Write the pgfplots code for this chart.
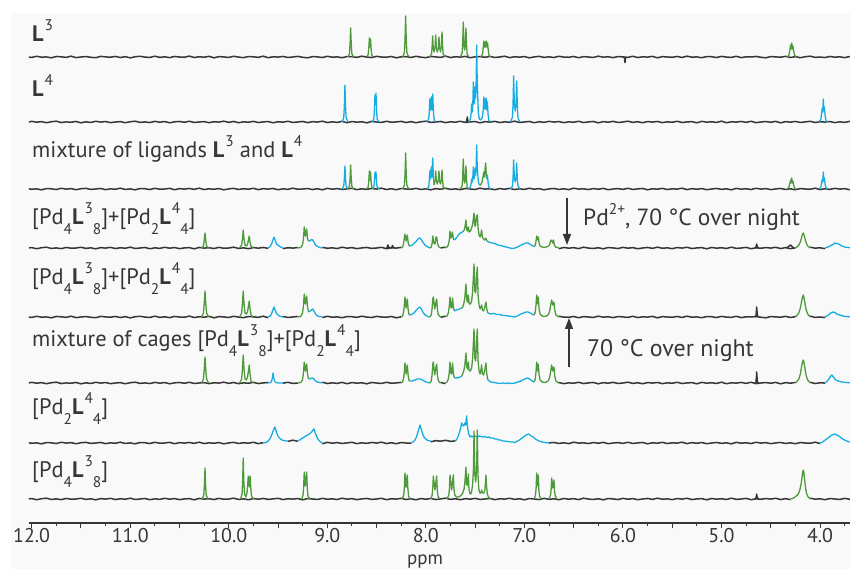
\documentclass[border=0pt]{standalone}
\usepackage{pgfplots}
\pgfplotsset{compat=1.18}
\usepackage{pgfplotstable}
\usepackage{fontspec}
\setmainfont{PT Sans}
\usetikzlibrary{arrows.meta}

\definecolor{gr}{HTML}{4F9A3C}
\definecolor{bl}{HTML}{16ADE3}
\definecolor{dk}{HTML}{363636}
\definecolor{panel}{HTML}{F9F9F9}

\newcommand\fs{\fontsize{22.5}{26}\selectfont}
\newcommand\sups[1]{\raisebox{0.5em}{\fontsize{15.5}{15.5}\selectfont #1}}
\newcommand\subs[1]{\raisebox{-0.42em}{\fontsize{15.5}{15.5}\selectfont #1}}
\newcommand\Lb{\textbf{L}\hspace{1bp}}

% baseline noise of the spectra (ppm, four noise traces in px)
\pgfplotstableread[row sep=\\]{
x a b c d\\
12.05 0.3 -0.4 0.6 -0.2\\
12.00 -0.5 0.7 -0.3 0.5\\
11.95 0.8 -0.2 0.1 -0.8\\
11.90 -0.2 0.4 -0.9 0.3\\
11.85 0.1 -0.8 0.5 0.9\\
11.80 -0.9 0.3 0.2 -0.5\\
11.75 0.6 0.9 -0.6 0.1\\
11.70 0.2 -0.6 0.8 -0.7\\
11.65 -0.4 0.1 -0.1 0.6\\
11.60 0.9 -0.3 0.4 -0.2\\
11.55 -0.7 0.6 -0.8 0.0\\
11.50 0.0 -0.9 0.3 0.8\\
11.45 0.5 0.2 0.7 -0.4\\
11.40 -0.3 -0.5 -0.4 0.2\\
11.35 -0.8 0.8 0.0 -0.9\\
11.30 0.7 -0.1 0.6 0.4\\
11.25 0.1 0.5 -0.7 -0.1\\
11.20 -0.2 -0.7 0.2 0.7\\
11.15 0.6 0.0 -0.3 -0.6\\
11.10 -0.6 0.4 0.9 0.3\\
11.05 0.4 -0.8 -0.5 -0.3\\
11.00 -1.0 0.3 0.1 0.9\\
10.95 0.3 0.9 -0.9 -0.5\\
10.90 0.8 -0.4 0.5 0.0\\
10.85 -0.1 0.1 0.3 0.6\\
10.80 -0.5 -0.6 -0.6 -0.8\\
10.75 0.9 0.7 0.8 0.2\\
10.70 -0.4 -0.2 -0.2 -0.4\\
10.65 0.2 0.5 0.0 0.8\\
10.60 -0.7 -0.9 0.7 -0.2\\
10.55 0.6 0.2 -0.8 0.5\\
10.50 0.0 0.6 0.4 -0.7\\
10.45 -0.3 -0.3 -0.1 0.1\\
10.40 1.0 0.8 0.6 0.4\\
10.35 -0.6 -0.5 -0.4 -0.9\\
10.30 0.3 0.0 0.9 0.6\\
10.25 -0.2 0.4 -0.6 -0.1\\
10.20 0.7 -0.7 0.2 0.3\\
10.15 -0.9 0.3 -0.3 -0.6\\
10.10 0.4 -0.1 0.5 0.7\\
10.05 0.1 0.9 -0.9 -0.3\\
10.00 -0.5 -0.4 0.1 0.0\\
9.95 0.8 0.6 0.7 0.9\\
9.90 -0.1 -0.8 -0.5 -0.5\\
9.85 -0.7 0.2 0.3 0.2\\
9.80 0.5 -0.3 -0.2 -0.8\\
9.75 0.2 0.7 0.8 0.5\\
9.70 -0.4 -0.6 -0.7 -0.2\\
9.65 0.9 0.1 0.4 0.6\\
9.60 -0.8 0.5 -0.1 -0.4\\
9.55 0.3 -0.9 0.6 0.1\\
9.50 -0.1 0.3 -0.8 0.8\\
9.45 0.6 -0.2 0.2 -0.7\\
9.40 -0.5 0.8 -0.4 0.3\\
9.35 0.0 -0.5 0.9 -0.1\\
9.30 0.7 0.0 -0.3 0.5\\
9.25 -0.3 0.6 0.0 -0.9\\
9.20 -0.9 -0.7 0.5 0.4\\
9.15 0.4 0.4 -0.6 0.0\\
9.10 0.2 -0.1 0.3 -0.5\\
9.05 -0.6 0.9 -0.9 0.7\\
9.00 0.8 -0.6 0.7 -0.3\\
8.95 -0.2 0.2 -0.2 0.2\\
8.90 0.1 -0.4 0.4 -0.6\\
8.85 -0.8 0.7 -0.5 0.9\\
8.80 0.5 -0.8 0.1 -0.2\\
8.75 0.3 0.5 0.8 0.4\\
8.70 -0.4 -0.2 -0.7 -0.7\\
8.65 0.9 0.3 0.2 0.1\\
8.60 -0.1 -0.9 -0.4 0.6\\
8.55 -0.6 0.6 0.6 -0.4\\
8.50 0.7 0.0 -0.1 0.0\\
8.45 0.0 -0.5 0.9 0.8\\
8.40 -0.3 0.8 -0.6 -0.8\\
8.35 0.6 -0.3 0.3 0.3\\
8.30 -0.9 0.1 -0.8 -0.1\\
8.25 0.2 0.7 0.5 0.7\\
8.20 0.4 -0.6 0.0 -0.5\\
8.15 -0.5 0.4 -0.3 0.2\\
8.10 0.8 -0.8 0.7 -0.9\\
8.05 -0.2 0.2 -0.5 0.5\\
8.00 -0.7 0.9 0.2 -0.3\\
7.95 0.5 -0.4 -0.9 0.6\\
7.90 0.1 0.0 0.4 -0.6\\
7.85 -0.4 0.6 -0.2 0.1\\
7.80 1.0 -0.7 0.8 0.9\\
7.75 -0.6 0.3 -0.4 -0.4\\
7.70 0.3 -0.2 0.1 0.3\\
7.65 -0.1 0.8 -0.7 -0.8\\
7.60 0.7 -0.5 0.6 0.4\\
7.55 -0.8 0.1 0.0 -0.2\\
7.50 0.2 0.5 -0.5 0.7\\
7.45 0.4 -0.9 0.9 -0.5\\
7.40 -0.3 0.4 -0.1 0.0\\
7.35 0.6 -0.1 0.3 0.6\\
7.30 -0.5 0.7 -0.8 -0.7\\
7.25 0.0 -0.6 0.5 0.2\\
7.20 0.9 0.2 -0.3 -0.1\\
7.15 -0.7 -0.3 0.7 0.8\\
7.10 0.3 0.9 -0.6 -0.4\\
7.05 -0.2 -0.5 0.2 0.3\\
7.00 0.5 0.0 -0.4 -0.9\\
6.95 -0.9 0.6 0.8 0.5\\
6.90 0.1 -0.8 -0.2 0.0\\
6.85 0.7 0.3 0.4 -0.6\\
6.80 -0.4 -0.4 -0.9 0.7\\
6.75 0.2 0.7 0.1 -0.3\\
6.70 -0.6 -0.1 0.6 0.2\\
6.65 0.8 0.5 -0.5 -0.8\\
6.60 -0.1 -0.7 0.3 0.6\\
6.55 -0.3 0.2 -0.7 -0.2\\
6.50 0.6 -0.3 0.9 0.4\\
6.45 -0.8 0.8 -0.1 -0.7\\
6.40 0.4 -0.6 0.2 0.9\\
6.35 0.0 0.1 -0.6 -0.1\\
6.30 -0.5 0.6 0.5 -0.5\\
6.25 0.9 -0.9 -0.3 0.3\\
6.20 -0.2 0.4 0.7 -0.9\\
6.15 0.3 -0.2 -0.8 0.5\\
6.10 -0.7 0.7 0.0 0.1\\
6.05 0.5 -0.5 0.4 -0.6\\
6.00 0.1 0.0 -0.4 0.7\\
5.95 -0.4 0.9 0.8 -0.2\\
5.90 0.8 -0.4 -0.5 0.4\\
5.85 -0.6 0.3 0.1 -0.8\\
5.80 0.2 -0.8 0.6 0.0\\
5.75 -0.1 0.5 -0.9 0.6\\
5.70 0.7 -0.1 0.3 -0.4\\
5.65 -0.9 0.6 -0.2 0.9\\
5.60 0.4 -0.7 0.7 -0.3\\
5.55 0.0 0.2 -0.6 0.2\\
5.50 -0.3 -0.3 0.2 -0.7\\
5.45 0.6 0.8 -0.1 0.5\\
5.40 -0.5 -0.6 0.9 -0.1\\
5.35 0.9 0.1 -0.7 0.8\\
5.30 -0.2 0.4 0.4 -0.6\\
5.25 0.1 -0.9 -0.3 0.1\\
5.20 -0.8 0.7 0.5 0.4\\
5.15 0.5 -0.2 -0.8 -0.9\\
5.10 0.3 0.3 0.0 0.6\\
5.05 -0.6 -0.5 0.6 -0.2\\
5.00 0.7 0.9 -0.4 0.3\\
4.95 -0.1 -0.8 0.2 -0.5\\
4.90 -0.4 0.2 -0.9 0.9\\
4.85 0.8 -0.1 0.7 -0.4\\
4.80 -0.7 0.6 -0.2 0.0\\
4.75 0.2 -0.4 0.3 0.7\\
4.70 0.0 0.8 -0.6 -0.8\\
4.65 0.6 -0.7 0.8 0.2\\
4.60 -0.3 0.0 -0.1 -0.3\\
4.55 -0.9 0.5 0.4 0.5\\
4.50 0.5 -0.3 -0.7 -0.1\\
4.45 0.1 0.7 0.1 0.8\\
4.40 -0.2 -0.9 0.6 -0.6\\
4.35 0.7 0.4 -0.5 0.4\\
4.30 -0.5 -0.2 0.2 -0.7\\
4.25 0.4 0.6 -0.8 0.1\\
4.20 -0.8 -0.5 0.5 0.6\\
4.15 0.3 0.1 0.0 -0.4\\
4.10 0.9 0.8 -0.3 0.9\\
4.05 -0.4 -0.6 0.9 -0.2\\
4.00 0.0 0.3 -0.6 0.3\\
3.95 -0.6 -0.1 0.3 -0.8\\
3.90 0.6 0.5 -0.4 0.5\\
3.85 -0.2 -0.7 0.7 0.0\\
3.80 0.2 0.2 -0.1 -0.5\\
3.75 -0.7 -0.4 0.4 0.7\\
3.70 0.5 0.7 -0.8 -0.3\\
3.65 -0.1 -0.2 0.1 0.4\\
}\noise

\pgfplotsset{
  basey/.style={y filter/.expression={y+#1}},
  basen/.style={y filter/.expression={0.9*y+#1}},
  gl/.style={dk, line width=1.5bp, line join=round, no marks},
  gg/.style={gr, line width=1.3bp, line join=round, no marks},
  bb/.style={bl, line width=1.3bp, line join=round, no marks},
}

\begin{document}
\begin{tikzpicture}
\useasboundingbox (0,0) rectangle (850bp,569bp);
\fill[panel] (11bp,0) rectangle (850bp,556bp);
\begin{axis}[
  at={(29bp,46bp)}, anchor=south west,
  scale only axis, width=821bp, height=510bp,
  xmin=3.696, xmax=12.027, x dir=reverse,
  ymin=46, ymax=556,
  axis x line=bottom, axis y line=none,
  x axis line style={-, dk, line width=1.2bp},
  xtick={4,4.5,...,12},
  xticklabels={4.0,,5.0,,6.0,,7.0,,8.0,,9.0,,10.0,,11.0,,12.0},
  minor xtick={3.75,4.25,...,11.75},
  tick align=outside,
  major tick length=5bp, minor tick length=3bp,
  tick style={dk, line width=1bp},
  xticklabel style={font=\fontsize{20}{20}\selectfont, text=dk, inner sep=0pt, yshift=0bp},
]
% ---------------- L3 ----------------
\addplot[gl, basen=512] table[x=x,y=a] {\noise};
\addplot[gl, basey=512] coordinates {(5.995,0) (5.984,-1) (5.979,-5.5) (5.974,-1) (5.965,0)};
\addplot[gg, basey=512] coordinates {(8.79,0) (8.775,3.5) (8.769,13) (8.763,29) (8.757,13) (8.751,3.5) (8.735,0)};
\addplot[gg, basey=512] coordinates {(8.60,0) (8.585,2.5) (8.579,9) (8.573,19) (8.567,10) (8.561,18) (8.555,8) (8.549,2) (8.535,0)};
\addplot[gg, basey=512] coordinates {(8.235,0) (8.217,5) (8.211,18) (8.205,41) (8.199,18) (8.193,5) (8.175,0)};
\addplot[gg, basey=512] coordinates {(7.965,0) (7.943,2.5) (7.937,9) (7.931,21) (7.9245,9) (7.9165,5) (7.906,10) (7.900,22) (7.893,9) (7.8835,5) (7.873,9) (7.867,20) (7.860,9) (7.8515,5) (7.842,11) (7.836,25) (7.830,11) (7.824,3) (7.805,0)};
\addplot[gg, basey=512] coordinates {(7.65,0) (7.632,4) (7.626,14) (7.620,35) (7.613,12) (7.6065,7) (7.599,12) (7.593,29) (7.587,12) (7.581,3) (7.565,0)};
\addplot[gg, basey=512] coordinates {(7.44,0) (7.424,3) (7.418,9) (7.412,16) (7.406,10) (7.399,15) (7.393,10) (7.387,16) (7.381,10) (7.373,14) (7.367,7) (7.360,2) (7.345,0)};
\addplot[gg, basey=512] coordinates {(4.33,0) (4.315,2) (4.306,7) (4.299,12) (4.293,8) (4.287,14) (4.281,8) (4.275,11) (4.268,6) (4.258,2) (4.245,0)};
% ---------------- L4 ----------------
\addplot[gl, basen=447] table[x=x,y=b] {\noise};
\addplot[gl, basey=447] coordinates {(7.595,0) (7.585,1) (7.579,5) (7.573,1) (7.565,0)};
\addplot[bb, basey=447] coordinates {(8.85,0) (8.833,4.5) (8.827,16) (8.821,37) (8.815,16) (8.809,4.5) (8.79,0)};
\addplot[bb, basey=447] coordinates {(8.545,0) (8.528,3) (8.522,11) (8.516,27) (8.511,18) (8.506,29) (8.500,12) (8.494,3) (8.475,0)};
\addplot[bb, basey=447] coordinates {(7.99,0) (7.971,3) (7.965,10) (7.959,23) (7.952,12) (7.945,25) (7.938,12) (7.930,28) (7.924,12) (7.917,3) (7.90,0)};
\addplot[bb, basey=447] coordinates {(7.565,0) (7.547,3) (7.541,8) (7.535,18) (7.528,10) (7.523,20) (7.518,40) (7.512,18) (7.506,20) (7.500,35) (7.494,24) (7.489,42) (7.484,77) (7.479,42) (7.474,28) (7.468,10) (7.458,3) (7.445,2) (7.430,4) (7.418,11) (7.412,25) (7.406,13) (7.400,23) (7.394,13) (7.387,24) (7.381,12) (7.375,20) (7.369,8) (7.361,2) (7.345,0)};
\addplot[bb, basey=447] coordinates {(7.14,0) (7.121,5) (7.115,18) (7.109,46) (7.102,18) (7.0935,11) (7.085,18) (7.078,41) (7.072,16) (7.065,4) (7.045,0)};
\addplot[bb, basey=447] coordinates {(4.01,0) (3.991,3) (3.983,10) (3.976,14) (3.9715,10) (3.967,23) (3.962,12) (3.956,15) (3.949,7) (3.941,2) (3.925,0)};
% ---------------- mixture of ligands ----------------
\addplot[gl, basen=380] table[x=x,y=c] {\noise};
\addplot[bb, basey=380] coordinates {(8.85,0) (8.833,3) (8.827,10) (8.821,23) (8.815,10) (8.809,3) (8.792,0)};
\addplot[gg, basey=380] coordinates {(8.792,0) (8.775,3) (8.769,10) (8.763,24) (8.757,10) (8.751,3) (8.735,0)};
\addplot[gg, basey=380] coordinates {(8.60,0) (8.585,2) (8.579,8) (8.573,18) (8.567,9) (8.561,17) (8.555,7) (8.549,2) (8.535,0)};
\addplot[bb, basey=380] coordinates {(8.535,0) (8.528,2) (8.522,7) (8.516,17) (8.511,11) (8.506,17) (8.500,7) (8.494,2) (8.475,0)};
\addplot[gg, basey=380] coordinates {(8.235,0) (8.217,4) (8.211,15) (8.205,36) (8.199,15) (8.193,4) (8.175,0)};
\addplot[bb, basey=380] coordinates {(7.99,0) (7.971,2) (7.965,8) (7.959,18) (7.952,10) (7.945,22) (7.938,12) (7.930,31) (7.924,12) (7.9165,4)};
\addplot[gg, basey=380] coordinates {(7.9165,4) (7.906,9) (7.900,18) (7.893,8) (7.8835,5) (7.873,9) (7.867,18) (7.860,8) (7.8515,5) (7.842,9) (7.836,19) (7.830,9) (7.824,2) (7.805,0)};
\addplot[gg, basey=380] coordinates {(7.65,0) (7.632,3) (7.626,12) (7.620,30) (7.613,10) (7.6065,6) (7.599,10) (7.593,23) (7.587,9) (7.581,2) (7.565,0)};
\addplot[bb, basey=380] coordinates {(7.565,0) (7.547,2) (7.541,5) (7.535,10) (7.528,7) (7.523,12) (7.518,22) (7.512,10) (7.506,12) (7.500,20) (7.494,14) (7.489,24) (7.484,44) (7.479,24) (7.474,16) (7.468,8) (7.458,4)};
\addplot[gg, basey=380] coordinates {(7.458,4) (7.445,4) (7.430,7) (7.418,13) (7.412,17) (7.406,12) (7.399,20) (7.393,26) (7.387,15) (7.381,10)};
\addplot[bb, basey=380] coordinates {(7.381,10) (7.375,14) (7.369,7) (7.361,2) (7.345,0)};
\addplot[bb, basey=380] coordinates {(7.14,0) (7.121,3) (7.115,11) (7.109,29) (7.102,11) (7.0935,7) (7.085,11) (7.078,26) (7.072,10) (7.065,3) (7.045,0)};
\addplot[gg, basey=380] coordinates {(4.33,0) (4.315,2) (4.306,6) (4.299,9) (4.293,6) (4.287,11) (4.281,6) (4.275,8) (4.268,4) (4.258,1) (4.245,0)};
\addplot[bb, basey=380] coordinates {(4.01,0) (3.991,2) (3.983,7) (3.976,10) (3.9715,7) (3.967,17) (3.962,9) (3.956,11) (3.949,5) (3.941,1.5) (3.925,0)};
% ---------------- cages, Pd2+ 70 C ----------------
\addplot[gl, basen=321, restrict x to domain=9.599:12.1] table[x=x,y=d] {\noise};
\addplot[gl, basen=321, restrict x to domain=9.299:9.451] table[x=x,y=d] {\noise};
\addplot[gl, basen=321, restrict x to domain=8.249:9.051] table[x=x,y=d] {\noise};
\addplot[gl, basen=321, restrict x to domain=7.799:7.851] table[x=x,y=d] {\noise};
\addplot[gl, basen=321, restrict x to domain=4.249:6.651] table[x=x,y=d] {\noise};
\addplot[gl, basen=321, restrict x to domain=3.949:4.101] table[x=x,y=d] {\noise};
\addplot[gl, basey=321] coordinates {(8.40,0) (8.392,0.5) (8.384,3) (8.376,0.5) (8.36,0) (8.345,0.5) (8.338,2.5) (8.330,0.5) (8.32,0)};
\addplot[gl, basey=321] coordinates {(4.66,0) (4.650,1) (4.645,2.5) (4.643,4) (4.640,2.5) (4.635,1) (4.625,0)};
\addplot[gl, basey=321] coordinates {(4.34,0) (4.32,1.5) (4.30,3) (4.285,1.5) (4.27,0)};
\addplot[gg, basey=321] coordinates {(10.275,0) (10.257,2) (10.249,7.5) (10.241,15) (10.233,7.5) (10.225,2) (10.205,0)};
\addplot[gg, basey=321] coordinates {(9.89,0) (9.869,3) (9.861,9) (9.853,18) (9.845,9) (9.835,3) (9.82,2) (9.808,4) (9.800,8) (9.792,12) (9.784,6) (9.774,2) (9.755,0)};
\addplot[bb, basey=321] coordinates {(9.60,0) (9.58,1.5) (9.565,4) (9.552,8) (9.541,11) (9.53,8) (9.515,4) (9.495,2.5) (9.475,1) (9.45,0)};
\addplot[gg, basey=321] coordinates {(9.30,0) (9.27,0.5) (9.252,3) (9.242,9) (9.234,21) (9.222,12) (9.209,19) (9.201,9) (9.19,7)};
\addplot[bb, basey=321] coordinates {(9.19,7) (9.175,7) (9.16,8.5) (9.148,8) (9.135,6) (9.12,3) (9.10,1.5) (9.075,0.5) (9.05,0)};
\addplot[gg, basey=321] coordinates {(8.25,0) (8.235,1) (8.225,5) (8.218,10) (8.212,14) (8.200,7) (8.188,13) (8.180,6) (8.17,2)};
\addplot[bb, basey=321] coordinates {(8.17,2) (8.145,2.5) (8.12,4.5) (8.095,7) (8.075,9.5) (8.059,10) (8.045,8) (8.025,5) (8.005,2.5) (7.98,1) (7.96,0)};
\addplot[gg, basey=321] coordinates {(7.96,0) (7.945,1) (7.936,5) (7.929,12) (7.920,5) (7.907,4) (7.897,11) (7.890,11) (7.882,5) (7.872,1.5) (7.85,0)};
\addplot[gg, basey=321] coordinates {(7.80,0) (7.785,1) (7.772,3) (7.762,8) (7.755,17) (7.746,10) (7.738,12) (7.730,16) (7.721,9) (7.71,8)};
\addplot[bb, basey=321] coordinates {(7.71,8) (7.69,10) (7.67,13) (7.65,15) (7.63,16) (7.615,17)};
\addplot[gg, basey=321] coordinates {(7.615,17) (7.604,20) (7.593,28) (7.584,18) (7.576,17) (7.569,21) (7.560,16) (7.548,17) (7.535,20) (7.525,24) (7.511,35) (7.503,22) (7.496,22) (7.486,32) (7.478,33) (7.470,20) (7.460,13) (7.450,11) (7.441,14) (7.434,18) (7.426,11) (7.415,9) (7.405,8) (7.397,9) (7.390,10) (7.382,7)};
\addplot[bb, basey=321] coordinates {(7.382,7) (7.36,6) (7.33,5) (7.30,4.5) (7.27,3) (7.24,2.5) (7.21,1.5) (7.18,1) (7.15,0) (7.12,-0.5) (7.095,0) (7.07,1) (7.04,2.5) (7.01,4) (6.985,5) (6.963,5) (6.94,3.5) (6.915,2) (6.90,1.5)};
\addplot[gg, basey=321] coordinates {(6.90,1.5) (6.89,3) (6.883,6) (6.875,12) (6.867,8) (6.859,11) (6.851,5) (6.84,2) (6.82,1) (6.80,0.5) (6.78,1) (6.76,1.5) (6.745,3) (6.737,6) (6.729,8) (6.721,7) (6.712,5) (6.704,8) (6.696,3) (6.685,1) (6.65,0)};
\addplot[gg, basey=321] coordinates {(4.25,0) (4.235,1) (4.215,3) (4.20,6) (4.188,10) (4.178,14) (4.170,15) (4.162,13) (4.152,9) (4.14,5) (4.125,2) (4.10,0)};
\addplot[bb, basey=321] coordinates {(3.95,0) (3.92,1) (3.89,2.5) (3.87,3.5) (3.85,5) (3.835,4.5) (3.81,4) (3.78,2) (3.75,1) (3.72,0.5) (3.65,0)};
% ---------------- cages, second ----------------
\addplot[gl, basen=252, restrict x to domain=9.599:12.1] table[x=x,y=a] {\noise};
\addplot[gl, basen=252, restrict x to domain=9.299:9.451] table[x=x,y=a] {\noise};
\addplot[gl, basen=252, restrict x to domain=8.249:9.051] table[x=x,y=a] {\noise};
\addplot[gl, basen=252, restrict x to domain=7.799:7.851] table[x=x,y=a] {\noise};
\addplot[gl, basen=252, restrict x to domain=4.249:6.651] table[x=x,y=a] {\noise};
\addplot[gl, basen=252, restrict x to domain=3.949:4.101] table[x=x,y=a] {\noise};
\addplot[gl, basey=252] coordinates {(4.66,0) (4.650,1) (4.645,6) (4.643,10) (4.640,6) (4.635,1) (4.625,0)};
\addplot[gg, basey=252] coordinates {(10.275,0) (10.257,4) (10.249,13) (10.241,26) (10.233,13) (10.225,4) (10.205,0)};
\addplot[gg, basey=252] coordinates {(9.89,0) (9.869,4) (9.861,13) (9.853,26) (9.845,13) (9.835,4) (9.82,3) (9.808,6) (9.800,11) (9.792,16) (9.784,8) (9.774,2) (9.755,0)};
\addplot[bb, basey=252] coordinates {(9.60,0) (9.58,1) (9.565,3.5) (9.552,7) (9.541,10) (9.53,7) (9.515,3.5) (9.495,1.5) (9.475,0.5) (9.45,0)};
\addplot[gg, basey=252] coordinates {(9.30,0) (9.27,0.5) (9.252,4) (9.242,11) (9.234,23) (9.222,13) (9.209,21) (9.201,10) (9.19,5)};
\addplot[bb, basey=252] coordinates {(9.19,5) (9.175,6) (9.16,7) (9.148,8) (9.135,6) (9.12,3) (9.10,1) (9.075,0.5) (9.05,0)};
\addplot[gg, basey=252] coordinates {(8.25,0) (8.235,1) (8.226,5) (8.219,11) (8.212,20) (8.200,9) (8.188,18) (8.180,8) (8.17,2)};
\addplot[bb, basey=252] coordinates {(8.17,2) (8.145,2.5) (8.12,4) (8.095,7) (8.075,9) (8.059,10) (8.045,8) (8.025,4) (8.005,2) (7.98,0.5) (7.96,0)};
\addplot[gg, basey=252] coordinates {(7.96,0) (7.945,2) (7.937,8) (7.929,18) (7.924,20) (7.910,8) (7.897,15) (7.890,18) (7.882,7) (7.872,2) (7.85,0)};
\addplot[gg, basey=252] coordinates {(7.80,0) (7.785,1) (7.772,4) (7.763,10) (7.755,20) (7.746,10) (7.738,9) (7.729,19) (7.721,10) (7.71,6)};
\addplot[bb, basey=252] coordinates {(7.71,6) (7.69,7) (7.67,7.5) (7.65,8.5) (7.63,9)};
\addplot[gg, basey=252] coordinates {(7.63,9) (7.615,13) (7.604,20) (7.593,33) (7.584,17) (7.576,15) (7.569,22) (7.560,13) (7.548,13) (7.535,16) (7.525,26) (7.511,53) (7.503,26) (7.494,24) (7.486,40) (7.478,50) (7.470,22) (7.460,12) (7.450,8) (7.441,10) (7.434,12) (7.426,7) (7.415,6) (7.404,9) (7.397,12) (7.390,15) (7.382,8) (7.37,4)};
\addplot[bb, basey=252] coordinates {(7.37,4) (7.34,3) (7.31,3.5) (7.28,2.5) (7.25,2.5) (7.22,1.5) (7.19,1.5) (7.16,1) (7.13,0.5) (7.095,0) (7.065,1.5) (7.035,3) (7.005,4) (6.985,5) (6.963,5) (6.94,4) (6.915,2.5) (6.90,2)};
\addplot[gg, basey=252] coordinates {(6.90,2) (6.89,5) (6.883,11) (6.875,22) (6.867,13) (6.859,20) (6.851,8) (6.84,3) (6.82,1) (6.80,0.5) (6.775,1) (6.755,2.5) (6.743,6) (6.735,11) (6.723,17) (6.712,12) (6.700,15) (6.692,7) (6.68,2) (6.65,0)};
\addplot[gg, basey=252] coordinates {(4.25,0) (4.235,1.5) (4.215,4) (4.20,9) (4.188,15) (4.178,20) (4.170,22) (4.162,19) (4.152,13) (4.14,7) (4.125,3) (4.10,0)};
\addplot[bb, basey=252] coordinates {(3.95,0) (3.93,1) (3.91,2.5) (3.89,4) (3.87,5) (3.85,4.5) (3.83,3) (3.80,2) (3.77,1) (3.74,0.5) (3.65,0)};
% ---------------- mixture of cages ----------------
\addplot[gl, basen=186, restrict x to domain=9.599:12.1] table[x=x,y=b] {\noise};
\addplot[gl, basen=186, restrict x to domain=9.299:9.451] table[x=x,y=b] {\noise};
\addplot[gl, basen=186, restrict x to domain=8.249:9.051] table[x=x,y=b] {\noise};
\addplot[gl, basen=186, restrict x to domain=7.799:7.851] table[x=x,y=b] {\noise};
\addplot[gl, basen=186, restrict x to domain=4.249:6.651] table[x=x,y=b] {\noise};
\addplot[gl, basen=186, restrict x to domain=3.949:4.101] table[x=x,y=b] {\noise};
\addplot[gl, basey=186] coordinates {(4.66,0) (4.650,1) (4.645,6) (4.643,11) (4.640,6) (4.635,1) (4.625,0)};
\addplot[gg, basey=186] coordinates {(10.275,0) (10.257,4) (10.249,13) (10.241,26) (10.233,13) (10.225,4) (10.205,0)};
\addplot[gg, basey=186] coordinates {(9.89,0) (9.869,4) (9.861,14) (9.853,28) (9.845,14) (9.835,4) (9.82,3) (9.808,7) (9.800,12) (9.792,18) (9.784,9) (9.774,2) (9.755,0)};
\addplot[bb, basey=186] coordinates {(9.60,0) (9.575,0.5) (9.565,2) (9.557,5) (9.550,10) (9.543,5) (9.535,2) (9.52,0.5) (9.50,0) (9.45,0)};
\addplot[gg, basey=186] coordinates {(9.30,0) (9.27,0.5) (9.252,3) (9.242,10) (9.234,21) (9.222,12) (9.209,19) (9.201,9) (9.19,4)};
\addplot[bb, basey=186] coordinates {(9.19,4) (9.175,4) (9.16,5) (9.148,5) (9.135,4) (9.12,2) (9.10,1) (9.05,0)};
\addplot[gg, basey=186] coordinates {(8.25,0) (8.235,1) (8.226,5) (8.219,10) (8.212,20) (8.200,9) (8.188,18) (8.180,8) (8.17,2)};
\addplot[bb, basey=186] coordinates {(8.17,2) (8.14,2) (8.11,3) (8.085,4) (8.06,4) (8.035,3) (8.01,1.5) (7.98,0.5) (7.96,0)};
\addplot[gg, basey=186] coordinates {(7.96,0) (7.945,2) (7.937,8) (7.929,19) (7.924,21) (7.910,8) (7.897,16) (7.890,19) (7.882,7) (7.872,2) (7.86,0.5) (7.85,0)};
\addplot[gg, basey=186] coordinates {(7.80,0) (7.785,1) (7.772,4) (7.763,10) (7.755,21) (7.746,10) (7.738,9) (7.729,20) (7.721,10) (7.71,5)};
\addplot[bb, basey=186] coordinates {(7.71,5) (7.69,5) (7.67,5.5) (7.65,6) (7.635,7)};
\addplot[gg, basey=186] coordinates {(7.635,7) (7.615,12) (7.604,18) (7.593,30) (7.584,16) (7.576,14) (7.569,21) (7.560,12) (7.548,12) (7.535,15) (7.525,25) (7.511,54) (7.503,25) (7.494,22) (7.486,40) (7.478,54) (7.470,22) (7.460,12) (7.450,9) (7.441,13) (7.434,18) (7.426,9) (7.415,8) (7.404,12) (7.397,16) (7.390,20) (7.382,9) (7.37,3)};
\addplot[bb, basey=186] coordinates {(7.37,3) (7.34,1) (7.31,0.5) (7.28,0) (7.25,-0.5) (7.22,0) (7.19,-0.5) (7.16,0) (7.13,-0.5) (7.095,0) (7.065,1) (7.035,2) (7.005,3.5) (6.985,4.5) (6.963,5) (6.94,3.5) (6.915,1.5) (6.90,1)};
\addplot[gg, basey=186] coordinates {(6.90,1) (6.89,4) (6.883,10) (6.875,21) (6.867,12) (6.859,19) (6.851,8) (6.84,3) (6.82,1) (6.80,0.5) (6.775,1) (6.755,2.5) (6.743,6) (6.735,11) (6.723,18) (6.712,12) (6.700,16) (6.692,7) (6.68,2) (6.65,0)};
\addplot[gg, basey=186] coordinates {(4.25,0) (4.235,1.5) (4.215,4) (4.20,9) (4.188,16) (4.178,21) (4.170,23) (4.162,20) (4.152,14) (4.14,7) (4.125,3) (4.10,0)};
\addplot[bb, basey=186] coordinates {(3.95,0) (3.93,1.5) (3.91,4) (3.895,6.5) (3.88,8) (3.865,6) (3.85,4) (3.83,2.5) (3.80,1.5) (3.77,1) (3.74,0.5) (3.65,0)};
% ---------------- [Pd2L4_4] ----------------
\addplot[gl, basen=126, restrict x to domain=9.649:12.1] table[x=x,y=c] {\noise};
\addplot[gl, basen=128, restrict x to domain=9.299:9.401] table[x=x,y=c] {\noise};
\addplot[gl, basen=126, restrict x to domain=8.149:9.051] table[x=x,y=c] {\noise};
\addplot[gl, basen=128, restrict x to domain=7.699:7.951] table[x=x,y=c] {\noise};
\addplot[gl, basen=126, restrict x to domain=3.999:6.751] table[x=x,y=c] {\noise};
\addplot[bb, basey=126] coordinates {(9.65,0) (9.62,0.5) (9.60,2) (9.58,4.5) (9.565,8) (9.55,12) (9.538,15) (9.531,16) (9.522,13) (9.51,9) (9.495,6) (9.48,4.5) (9.46,3) (9.44,2.5) (9.42,2) (9.40,2)};
\addplot[bb, basey=126] coordinates {(9.30,2) (9.28,3) (9.26,4.5) (9.24,5.5) (9.22,7) (9.20,8) (9.18,9) (9.16,11) (9.145,13) (9.135,14) (9.125,11) (9.11,7) (9.095,4) (9.08,2) (9.065,1) (9.05,0)};
\addplot[bb, basey=126] coordinates {(8.15,0) (8.13,1) (8.11,3) (8.095,6) (8.08,11) (8.068,15) (8.059,18) (8.05,15) (8.035,10) (8.02,6) (8.00,4) (7.98,2.5) (7.95,2)};
\addplot[bb, basey=126] coordinates {(7.70,2) (7.685,4) (7.67,7) (7.655,12) (7.645,16) (7.636,20) (7.627,18) (7.615,17) (7.604,20) (7.596,18) (7.590,24) (7.586,27) (7.581,20) (7.574,14) (7.565,9) (7.55,6) (7.535,7) (7.52,6) (7.50,7) (7.48,6) (7.46,7) (7.44,6.5) (7.42,6) (7.40,6.5) (7.38,5.5) (7.36,6) (7.34,5) (7.32,5) (7.30,4) (7.28,4) (7.26,3) (7.24,3) (7.22,2) (7.20,2) (7.18,1.5) (7.16,1.5) (7.14,1) (7.12,1) (7.095,0.5) (7.07,2) (7.05,3) (7.03,4.5) (7.01,6) (6.99,7.5) (6.97,8.5) (6.96,9) (6.945,8) (6.93,7) (6.91,6) (6.89,4) (6.87,3) (6.85,2) (6.82,1) (6.79,0.5) (6.75,0)};
\addplot[bb, basey=126] coordinates {(4.00,0) (3.98,0.5) (3.96,2) (3.94,3.5) (3.92,5) (3.90,6.5) (3.88,8) (3.865,8.5) (3.848,9) (3.83,8) (3.81,7) (3.79,5.5) (3.77,4) (3.75,3) (3.73,2) (3.70,1) (3.65,0.5)};
% ---------------- [Pd4L3_8] ----------------
\addplot[gl, basen=70, restrict x to domain=4.299:12.1] table[x=x,y=d] {\noise};
\addplot[gl, basen=70, restrict x to domain=3.6:4.101] table[x=x,y=d] {\noise};
\addplot[gl, basey=70] coordinates {(4.66,0) (4.650,1) (4.645,3) (4.643,5) (4.640,3) (4.635,1) (4.625,0)};
\addplot[gg, basey=70] coordinates {(10.27,0) (10.253,4) (10.247,14) (10.241,31) (10.235,14) (10.229,4) (10.21,0)};
\addplot[gg, basey=70] coordinates {(9.88,0) (9.865,5) (9.859,18) (9.853,41) (9.847,18) (9.840,5) (9.825,2) (9.814,7) (9.808,14) (9.802,23) (9.792,12) (9.782,23) (9.776,10) (9.769,3) (9.75,0)};
\addplot[gg, basey=70] coordinates {(9.26,0) (9.246,4) (9.240,12) (9.234,27) (9.222,13) (9.209,27) (9.203,11) (9.196,3) (9.18,0)};
\addplot[gg, basey=70] coordinates {(8.24,0) (8.224,4) (8.218,11) (8.212,26) (8.200,12) (8.188,24) (8.182,10) (8.175,3) (8.16,0)};
\addplot[gg, basey=70] coordinates {(7.95,0) (7.936,4) (7.930,10) (7.924,23) (7.907,9) (7.890,23) (7.884,9) (7.877,3) (7.86,0)};
\addplot[gg, basey=70] coordinates {(7.785,0) (7.767,4) (7.761,10) (7.755,24) (7.738,9) (7.721,24) (7.715,10) (7.706,4) (7.69,2) (7.67,2) (7.65,3) (7.63,5) (7.612,10) (7.604,17) (7.599,23) (7.593,32) (7.586,14) (7.575,14) (7.569,25) (7.562,9) (7.55,5) (7.537,6) (7.525,15) (7.517,30) (7.511,68) (7.503,25) (7.494,17) (7.485,30) (7.478,69) (7.471,25) (7.463,10) (7.452,6) (7.44,6) (7.434,9) (7.425,6) (7.41,6) (7.40,10) (7.395,16) (7.390,24) (7.384,13) (7.376,5) (7.365,2) (7.345,0)};
\addplot[gg, basey=70] coordinates {(6.90,0) (6.887,4) (6.881,11) (6.875,26) (6.867,13) (6.859,24) (6.853,9) (6.846,3) (6.83,0)};
\addplot[gg, basey=70] coordinates {(6.75,0) (6.735,4) (6.729,9) (6.723,21) (6.712,11) (6.700,19) (6.694,8) (6.687,3) (6.67,0)};
\addplot[gg, basey=70] coordinates {(4.30,0) (4.28,0.5) (4.26,1.5) (4.24,3) (4.22,5) (4.205,9) (4.192,15) (4.182,22) (4.176,27) (4.170,29) (4.164,26) (4.155,18) (4.145,10) (4.135,5) (4.12,2) (4.10,0)};
\end{axis}

% spectrum labels
\begin{scope}[every node/.style={anchor=base west, inner sep=0pt, text=dk, font=\fs}]
\node at (32bp,527bp) {\Lb\sups{3}};
\node at (32bp,472bp) {\Lb\sups{4}};
\node at (32bp,411bp) {mixture of ligands \Lb\sups{3} and \Lb\sups{4}};
\node at (32bp,344bp) {[Pd\subs{4}\Lb\sups{3}\subs{8}]+[Pd\subs{2}\Lb\sups{4}\subs{4}]};
\node at (32bp,284bp) {[Pd\subs{4}\Lb\sups{3}\subs{8}]+[Pd\subs{2}\Lb\sups{4}\subs{4}]};
\node at (32bp,222bp) {mixture of cages [Pd\subs{4}\Lb\sups{3}\subs{8}]+[Pd\subs{2}\Lb\sups{4}\subs{4}]};
\node at (32bp,154bp) {[Pd\subs{2}\Lb\sups{4}\subs{4}]};
\node at (32bp,91bp) {[Pd\subs{4}\Lb\sups{3}\subs{8}]};
\node[font=\fontsize{23.5}{27}\selectfont] at (583bp,343bp) {Pd\sups{2+}, 70 °C over night};
\node[font=\fontsize{24}{28}\selectfont] at (587bp,212bp) {70 °C over night};
\end{scope}
% reaction arrows
\draw[dk, line width=1.3bp, -{Triangle[length=11bp,width=8bp]}] (567bp,371bp) -- (567bp,324bp);
\draw[dk, line width=1.3bp, -{Triangle[length=11bp,width=8bp]}] (569bp,202bp) -- (569bp,251bp);
% axis title
\node[anchor=base, inner sep=0pt, text=dk, font=\fontsize{19}{19}\selectfont] at (425bp,5bp) {ppm};
\end{tikzpicture}
\end{document}
